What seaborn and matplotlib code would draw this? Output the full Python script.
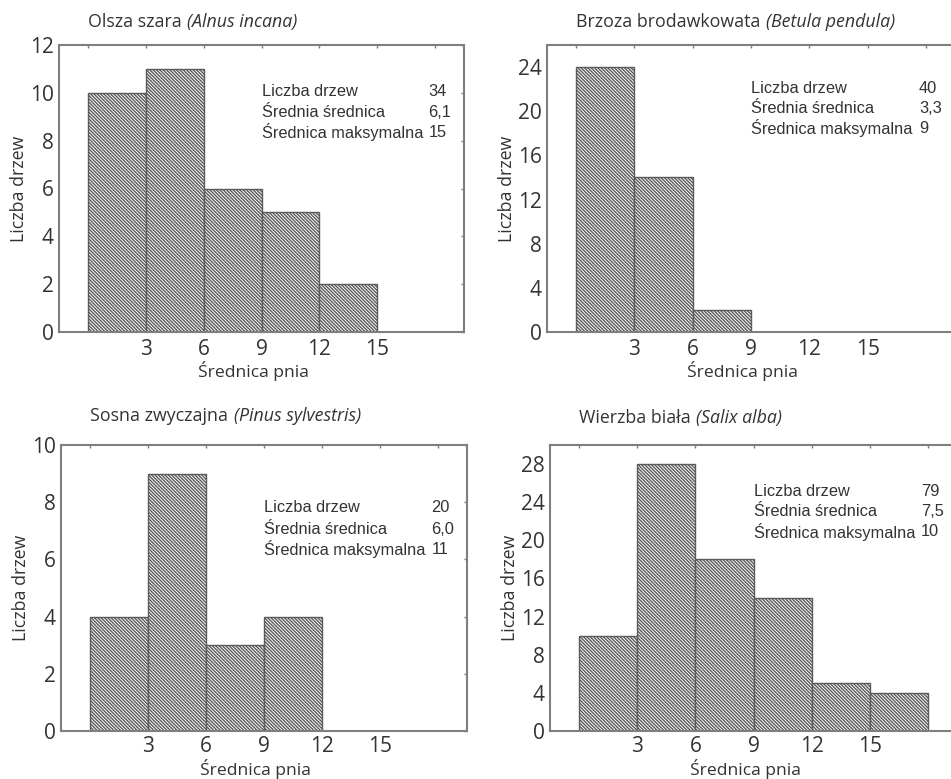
import numpy as np
import pandas as pd
import matplotlib
matplotlib.use("Agg")
import matplotlib.pyplot as plt
import seaborn as sns

# ---- data ----
species_pl = ["Olsza szara", "Brzoza brodawkowata", "Sosna zwyczajna", "Wierzba biała"]
species_lat = ["(Alnus incana)", "(Betula pendula)", "(Pinus sylvestris)", "(Salix alba)"]
olsza_counts = [10, 11, 6, 5, 2]
brzoza_counts = [24, 14, 2]
sosna_counts = [4, 9, 3, 4]
wierzba_counts = [10, 28, 18, 14, 5, 4]
bin_width = 3
xtick_labels = ["", "3", "6", "9", "12", "15", ""]
stat_labels = ["Liczba drzew", "Średnia średnica", "Średnica maksymalna"]
n_trees = ["34", "40", "20", "79"]
mean_d = ["6,1", "3,3", "6,0", "7,5"]
max_d = ["15", "9", "11", "10"]
y_max = [12, 26, 10, 30]
y_step = [2, 4, 2, 4]
x_label = "Średnica pnia"
y_label = "Liczba drzew"

all_counts = [olsza_counts, brzoza_counts, sosna_counts, wierzba_counts]

sns.set_theme(style="white")
plt.rcParams["font.family"] = ["Open Sans", "DejaVu Sans"]
plt.rcParams["hatch.color"] = "#666666"
plt.rcParams["hatch.linewidth"] = 1.0

W, H = 951, 779
fig = plt.figure(figsize=(W / 100, H / 100), dpi=100)
fig.patch.set_facecolor("white")

# pixel boxes: left, top, right, bottom
boxes = [(59, 45, 464, 332), (547, 45, 955, 332), (61, 445, 467, 731), (550, 445, 957, 731)]
text_y = [[0.837, 0.766, 0.696], [0.85, 0.78, 0.71], [0.78, 0.705, 0.635], [0.836, 0.766, 0.696]]
title_y = [1.08, 1.08, 1.10, 1.095]
xlabel_y = [-0.1, -0.1, -0.098, -0.098]
xpad = [5, 5, 3.5, 3.5]

grey = "#7f7f7f"
txt = "#333333"

for i, counts in enumerate(all_counts):
    l, t, r, b = boxes[i]
    ax = fig.add_axes([l / W, 1 - b / H, (r - l) / W, (b - t) / H])
    n = len(counts)
    edges = [float(bin_width * k) for k in range(n + 1)]
    centers = [bin_width * k + bin_width / 2 for k in range(n)]
    df = pd.DataFrame({"d": centers, "w": [float(c) for c in counts]})
    sns.histplot(data=df, x="d", weights="w", bins=edges, ax=ax,
                 color="white", edgecolor="#5a5a5a", linewidth=1.0, alpha=1.0)
    for p in ax.patches:
        p.set_hatch("\\" * 10)
        p.set_facecolor("white")
        p.set_edgecolor("#5a5a5a")

    ax.set_xlim(-1.5, 19.5)
    ax.set_ylim(0, y_max[i])
    ax.set_xticks(np.arange(0, 19, 3))
    ax.set_xticklabels(xtick_labels)
    ax.set_yticks(np.arange(0, y_max[i] + 0.01, y_step[i]))
    if y_step[i] == 4:
        ax.set_yticks(np.arange(0, y_max[i] + 0.01, 2), minor=True)
    ax.tick_params(axis="both", which="both", direction="in", length=2.5, width=1,
                   color=grey, top=True, right=True, labelsize=15, labelcolor=txt)
    ax.tick_params(axis="x", pad=xpad[i])
    ax.tick_params(axis="y", pad=4)
    for s in ax.spines.values():
        s.set_color(grey)
        s.set_linewidth(1.5)
        s.set_visible(True)

    ax.set_xlabel(x_label, fontsize=12.6, color=txt)
    ax.xaxis.set_label_coords(0.48, xlabel_y[i])
    ax.set_ylabel(y_label, fontsize=12.8, color=txt)
    ax.yaxis.set_label_coords(-0.077, 0.5)

    # title: regular + italic part
    tr = matplotlib.transforms.blended_transform_factory(ax.transData, ax.transAxes)
    t1 = ax.text(0, title_y[i], species_pl[i], transform=tr, ha="left", va="center",
                 fontsize=12.8, color=txt)
    ax.annotate(species_lat[i], xy=(1, 0.5), xycoords=t1, xytext=(4, 0),
                textcoords="offset points", ha="left", va="center",
                fontsize=12.8, color=txt, style="italic")

    vals = [n_trees[i], mean_d[i], max_d[i]]
    for k in range(3):
        ax.text(0.5, text_y[i][k], stat_labels[k], transform=ax.transAxes,
                ha="left", va="center", fontsize=11.8, color=txt,
                family=["Liberation Sans", "DejaVu Sans"])
        ax.text(0.912, text_y[i][k], vals[k], transform=ax.transAxes,
                ha="left", va="center", fontsize=11.8, color=txt,
                family=["Liberation Sans", "DejaVu Sans"])

fig.savefig("out.png", dpi=100, facecolor="white")
